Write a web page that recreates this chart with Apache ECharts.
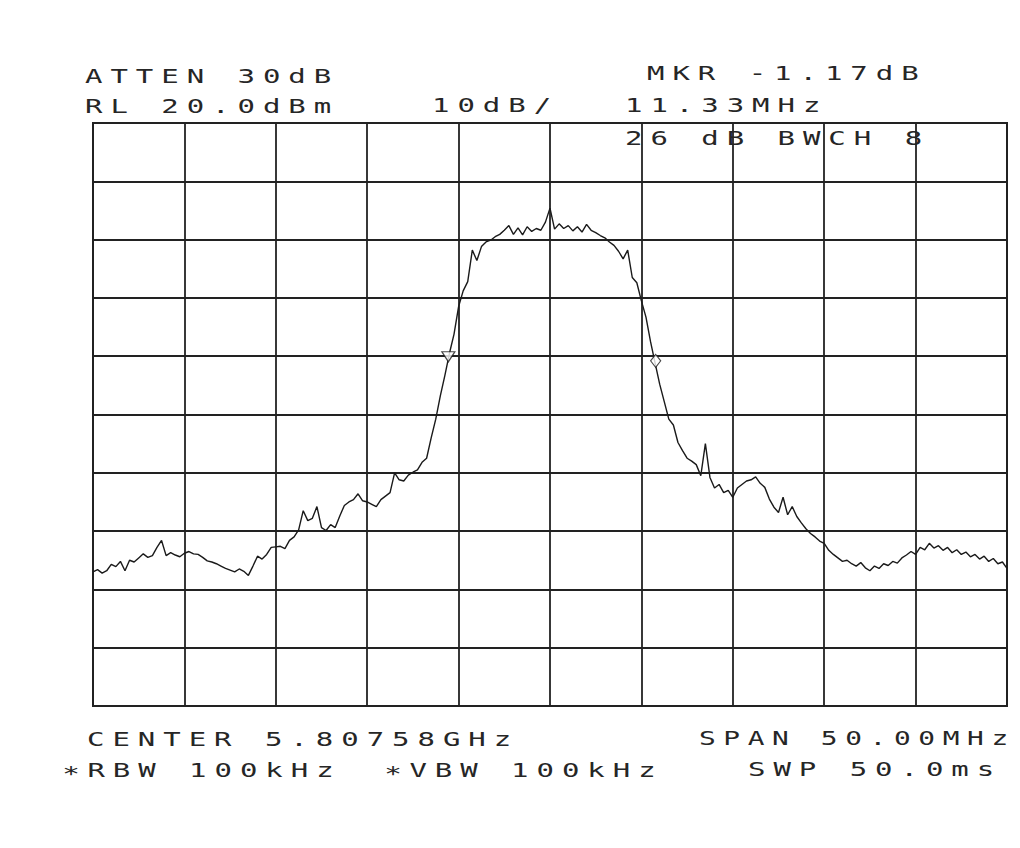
<!DOCTYPE html>
<html>
<head>
<meta charset="utf-8">
<script src="https://cdn.jsdelivr.net/npm/echarts@6/dist/echarts.min.js"></script>
<style>
  html, body { margin: 0; padding: 0; background: #ffffff; }
  #chart { width: 1020px; height: 848px; }
  #chart text { letter-spacing: 5.5px; }
</style>
</head>
<body>
<div id="chart"></div>
<script>
// Sweep: center 5.80758 GHz, span 50 MHz -> offsets -25..+25 MHz
const sweepStartMHz = -25;
const sweepStepMHz = 0.25;
// Trace levels (dBm), one per sweep point
const traceLevels = [
  -57.0,-56.6,-57.2,-56.8,-55.7,-56.1,-55.2,-56.8,-55.0,-55.3,
  -54.6,-53.9,-54.5,-54.2,-52.8,-51.6,-54.2,-53.7,-54.1,-54.4,
  -53.8,-53.5,-53.9,-54.0,-54.5,-55.1,-55.3,-55.6,-56.0,-56.4,
  -56.7,-57.0,-56.5,-56.9,-57.6,-56.0,-54.3,-54.8,-54.0,-52.8,
  -52.7,
  -52.6,-53.0,-51.6,-51.0,-49.8,-46.5,-48.2,-47.8,-45.8,-49.4,
  -49.9,-48.9,-49.4,-47.4,-45.6,-45.0,-44.6,-43.6,-44.8,-45.0,
  -45.4,-45.8,-44.6,-44.0,-43.4,-40.0,-41.2,-41.4,-40.4,-39.9,
  -39.5,-38.2,-37.5,-34.0,-30.8,-26.8,-23.3,-19.5,-16.2,-11.5,
  -8.8,-7.2,-1.8,-3.6,-1.2,-0.4,-0.1,0.5,0.9,1.6,
  2.4,0.9,2.0,0.8,2.2,1.4,1.9,1.6,3.0,5.4,
  1.8,2.7,1.9,2.4,1.5,2.2,1.3,2.6,1.6,1.2,
  0.7,0.3,-0.4,-1.0,-2.0,-3.3,-1.8,-6.5,-7.4,-10.5,
  -13.3,-17.5,-21.2,-24.8,-27.8,-30.8,-31.8,-34.8,-36.2,-37.5,
  -38.0,-38.6,-40.5,-35.0,-40.8,-42.6,-42.0,-43.4,-43.0,-44.2,
  -42.6,-42.0,-41.4,-41.2,-40.7,-41.8,-42.5,-44.5,-45.9,-46.8,
  -44.2,-47.2,-45.8,-47.5,-48.6,-49.6,-50.4,-51.0,-51.7,-52.1,
  -53.3,-54.0,-54.6,-55.2,-55.0,-55.6,-56.0,-55.4,-56.3,-56.8,
  -56.0,-56.4,-55.6,-55.9,-55.2,-55.5,-54.6,-54.1,-53.5,-54.0,
  -52.8,-53.2,-52.1,-52.9,-52.5,-53.3,-52.8,-53.7,-53.2,-54.0,
  -53.6,-54.4,-54.0,-54.8,-54.3,-55.2,-54.7,-55.6,-55.3,-56.4
];
// Markers (26 dB bandwidth markers)
const markerFreqs = [-5.56, 5.78];
const markerLevels = [-20.1, -20.8];
const markerSymbols = ['triangle', 'diamond'];
// Axis settings
const refLevel = 20, dbPerDiv = 10, divisions = 10;
const spanMHz = 50, freqDiv = 5;
// Annotation texts
const headerTexts = ['ATTEN 30dB', 'RL 20.0dBm', '10dB/', 'MKR -1.17dB', '11.33MHz', '26 dB BWCH 8'];
const footerTexts = ['CENTER 5.80758GHz', '\u2217RBW 100kHz', '\u2217VBW 100kHz', 'SPAN 50.00MHz', 'SWP 50.0ms'];

const traceData = traceLevels.map((v, i) => [sweepStartMHz + i * sweepStepMHz, v]);
const markerData = markerFreqs.map((f, i) => ({
  value: [f, markerLevels[i]],
  symbol: markerSymbols[i],
  symbolRotate: i === 0 ? 180 : 0,
  symbolSize: i === 0 ? [13, 10] : [10, 13]
}));

// [left, baseline, horizontal scale]
const textPos = {
  'ATTEN 30dB': [85, 83, 1.45],
  'RL 20.0dBm': [85, 113, 1.45],
  '10dB/': [432, 112, 1.45],
  'MKR -1.17dB': [647, 80, 1.45],
  '11.33MHz': [625, 112, 1.45],
  '26 dB BWCH 8': [625, 145, 1.45],
  'CENTER 5.80758GHz': [87, 746, 1.45],
  '\u2217RBW 100kHz': [62, 777, 1.45],
  '\u2217VBW 100kHz': [384, 777, 1.45],
  'SPAN 50.00MHz': [699, 745, 1.39],
  'SWP 50.0ms': [748, 776, 1.45]
};
const graphics = headerTexts.concat(footerTexts).map(t => ({
  type: 'text',
  x: textPos[t][0],
  y: textPos[t][1] - 7,
  scaleX: textPos[t][2],
  z: 100,
  style: {
    text: t,
    x: 0, y: 0,
    fill: '#262626',
    font: 'normal 20px "DejaVu Sans Mono"',
    fontSize: 20,
    fontFamily: 'DejaVu Sans Mono',
    textAlign: 'left',
    textVerticalAlign: 'middle',
    verticalAlign: 'middle'
  }
}));

const chart = echarts.init(document.getElementById('chart'), null, { renderer: 'svg' });
chart.setOption({
  animation: false,
  backgroundColor: '#ffffff',
  grid: {
    left: 93, top: 123, width: 914, height: 583,
    show: true, borderColor: '#222222', borderWidth: 2, backgroundColor: 'transparent'
  },
  xAxis: {
    type: 'value',
    min: -spanMHz / 2, max: spanMHz / 2, interval: freqDiv,
    axisLabel: { show: false }, axisTick: { show: false }, axisLine: { show: false },
    splitLine: { show: true, lineStyle: { color: '#222222', width: 1.8 } }
  },
  yAxis: {
    type: 'value',
    min: refLevel - dbPerDiv * divisions, max: refLevel, interval: dbPerDiv,
    axisLabel: { show: false }, axisTick: { show: false }, axisLine: { show: false },
    splitLine: { show: true, lineStyle: { color: '#222222', width: 1.8 } }
  },
  series: [
    {
      type: 'line',
      data: traceData,
      showSymbol: false,
      symbol: 'none',
      lineStyle: { color: '#1a1a1a', width: 1.4 },
      z: 3
    },
    {
      type: 'scatter',
      data: markerData,
      itemStyle: { color: '#ffffff', borderColor: '#1a1a1a', borderWidth: 1.2 },
      z: 4
    }
  ],
  graphic: graphics
});
</script>
</body>
</html>
